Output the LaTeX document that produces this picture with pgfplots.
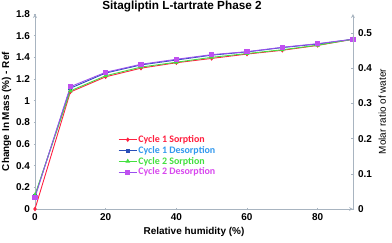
\documentclass[border=0pt]{standalone}
\usepackage{pgfplots}
\pgfplotsset{compat=1.18}
\usepackage{pgfplotstable}
\usepackage{fontspec}
\setmainfont{Liberation Sans}
\newfontfamily\calib{Carlito}
\definecolor{cred}{HTML}{FF2040}
\definecolor{cblue}{HTML}{2A4FB8}
\definecolor{cbluet}{HTML}{3399EE}
\definecolor{cgreen}{HTML}{44E040}
\definecolor{cpurp}{HTML}{C050F0}
\definecolor{cpurpl}{HTML}{9A50EE}
\definecolor{cpurpt}{HTML}{D848EE}
\definecolor{axgray}{HTML}{A8B4C0}

\pgfplotstableread{
x y
0 0.00
10 1.08
20 1.22
30 1.30
40 1.35
50 1.39
60 1.43
70 1.465
80 1.51
90 1.567
}\cAs
\pgfplotstableread{
x y
0 0.12
10 1.115
20 1.255
30 1.33
40 1.375
50 1.42
60 1.45
70 1.49
80 1.523
90 1.567
}\cAd
\pgfplotstableread{
x y
0 0.13
10 1.09
20 1.23
30 1.31
40 1.355
50 1.40
60 1.435
70 1.47
80 1.512
90 1.567
}\cBs
\pgfplotstableread{
x y
0 0.108
10 1.129
20 1.262
30 1.336
40 1.382
50 1.425
60 1.452
70 1.493
80 1.526
90 1.567
}\cBd

\begin{document}
\begin{tikzpicture}
\pgfplotsset{
  every axis/.append style={
    scale only axis, width=318bp, height=195bp,
    at={(35bp,34bp)}, anchor=south west,
    xmin=0, xmax=90,
    axis line style={axgray, line width=0.8pt},
    tick style={axgray, line width=0.6pt},
    major tick length=3pt,
    tick align=outside,
    /pgf/number format/assume math mode=true,
    tick label style={font=\bfseries\fontsize{10}{12}\selectfont, text=black},
    label style={font=\bfseries\fontsize{10}{12}\selectfont},
  }
}
\begin{axis}[
  axis x line=bottom, axis y line=left,
  ymin=0, ymax=1.8,
  ytick={0,0.2,...,1.8},
  xtick={0,20,40,60,80},
  xlabel={Relative humidity (\%)},
  ylabel={Change In Mass (\%) - Ref},
  ylabel style={yshift=-2bp},
  xlabel style={yshift=1bp},
  title={Sitagliptin L-tartrate Phase 2},
  title style={font=\bfseries\fontsize{11.8}{13}\selectfont, yshift=-7bp, xshift=-12bp},
  legend style={draw=none, fill=none, at={(axis cs:23.5,0.69)}, anchor=north west,
    font=\calib\bfseries\fontsize{10}{11}\selectfont, row sep=0.3pt, inner sep=0pt,
    nodes={inner sep=1pt},
    legend cell align=left},
  legend image code/.code={
    \draw[mark repeat=2,mark phase=2] plot coordinates {(0cm,0cm) (0.32cm,0cm) (0.64cm,0cm)};},
]
\addplot[cred, line width=0.9pt, mark=diamond*, mark size=1.6pt] table {\cAs};
\addlegendentry{\textcolor{cred}{Cycle 1 Sorption}}
\addplot[cblue, line width=0.9pt, mark=square*, mark size=1.5pt] table {\cAd};
\addlegendentry{\textcolor{cbluet}{Cycle 1 Desorption}}
\addplot[cgreen, line width=0.9pt, mark=triangle*, mark size=1.8pt] table {\cBs};
\addlegendentry{\textcolor{cgreen}{Cycle 2 Sorption}}
\addplot[cpurpl, line width=0.9pt, mark=square*, mark size=2.1pt, mark options={fill=cpurp, draw=cpurp}] table {\cBd};
\addlegendentry{\textcolor{cpurpt}{Cycle 2 Desorption}}
\end{axis}
\begin{axis}[
  axis x line=none, axis y line=right,
  ymin=0, ymax=0.554,
  ytick={0,0.1,...,0.5},
  ylabel={Molar ratio of water},
]
\addplot[draw=none] coordinates {(0,0)};
\end{axis}
\pgfresetboundingbox
\useasboundingbox (0,0) rectangle (392bp,243bp);
\end{tikzpicture}
\end{document}
